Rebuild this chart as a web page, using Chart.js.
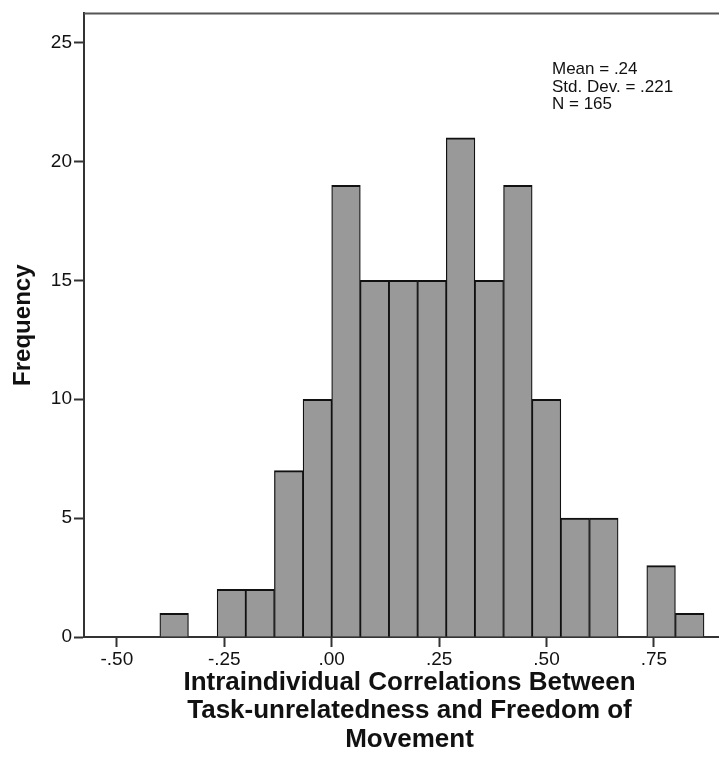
<!DOCTYPE html>
<html lang="en">

<head>
    <meta charset="UTF-8">
    <title>Histogram</title>
    <script src="https://cdn.jsdelivr.net/npm/chart.js"></script>
    <style>
        html, body { margin: 0; background: #ffffff; overflow: hidden; }
        /* the plot runs a little past the right edge of the picture */
        .grafico { width: 736px; height: 761px; position: relative; }
    </style>
</head>

<body>
    <div class="grafico">
        <canvas id="myChart"></canvas>
    </div>

<script>

    // bin centres (bin width 1/15) and counts
    var binCenters = [-0.3667, -0.3, -0.2333, -0.1667, -0.1, -0.0333, 0.0333, 0.1, 0.1667, 0.2333,
        0.3, 0.3667, 0.4333, 0.5, 0.5667, 0.6333, 0.7, 0.7667, 0.8333];
    var frequencias = [1, 0, 2, 2, 7, 10, 19, 15, 15, 15, 21, 15, 19, 10, 5, 5, 0, 3, 1];

    var xTicks = [-0.5, -0.25, 0, 0.25, 0.5, 0.75];
    var xTickLabels = ['-.50', '-.25', '.00', '.25', '.50', '.75'];
    var yTicks = [0, 5, 10, 15, 20, 25];

    var estatisticas = ['Mean = .24', 'Std. Dev. = .221', 'N = 165'];

    var fonte = "'Liberation Sans', Arial, sans-serif";

    var pontos = [];
    for (var i = 0; i < binCenters.length; i++) {
        pontos.push({ x: binCenters[i], y: frequencias[i] });
    }

    // top frame line + stats box
    const molduraPlugin = {
        id: 'moldura',
        afterDraw(chart) {
            const ctx = chart.ctx;
            const area = chart.chartArea;
            ctx.save();
            ctx.strokeStyle = '#555555';
            ctx.lineWidth = 2;
            ctx.beginPath();
            ctx.moveTo(area.left, area.top);
            ctx.lineTo(area.right + 2, area.top);
            ctx.stroke();

            ctx.fillStyle = '#111111';
            ctx.font = '17px ' + fonte;
            ctx.textAlign = 'left';
            ctx.textBaseline = 'alphabetic';
            for (var j = 0; j < estatisticas.length; j++) {
                ctx.fillText(estatisticas[j], area.left + 468, area.top + 61 + j * 17.2);
            }
            ctx.restore();
        }
    };

    const config = {
        type: 'bar',
        data: {
            datasets: [{
                data: pontos,
                backgroundColor: '#999999',
                borderColor: '#111111',
                borderWidth: { top: 2, left: 1.25, right: 1.25, bottom: 0 },
                borderSkipped: false,
                barPercentage: 1,
                categoryPercentage: 1
            }]
        },
        options: {
            responsive: true,
            maintainAspectRatio: false,
            animation: false,
            layout: { padding: { top: 10, left: 0, right: 1, bottom: 0 } },
            plugins: {
                legend: { display: false },
                tooltip: { enabled: false }
            },
            scales: {
                x: {
                    type: 'linear',
                    min: -0.5765,
                    max: 0.9387,
                    offset: false,
                    afterBuildTicks: function (scale) {
                        scale.ticks = xTicks.map(v => ({ value: v }));
                    },
                    afterFit: function (scale) { scale.height = 124; },
                    ticks: {
                        autoSkip: false,
                        maxRotation: 0,
                        padding: 1,
                        color: '#111111',
                        font: { family: fonte, size: 19 },
                        callback: function (v) {
                            var k = xTicks.indexOf(v);
                            return k >= 0 ? xTickLabels[k] : '';
                        }
                    },
                    grid: {
                        offset: false,
                        drawOnChartArea: false,
                        tickLength: 10,
                        tickColor: '#333333',
                        tickWidth: 2
                    },
                    border: { display: true, color: '#333333', width: 2 },
                    title: {
                        display: true,
                        text: ['Intraindividual Correlations Between', 'Task-unrelatedness and Freedom of', 'Movement'],
                        color: '#111111',
                        font: { family: fonte, size: 26, weight: 'bold', lineHeight: 1.1 },
                        padding: { top: 0, bottom: 7 }
                    }
                },
                y: {
                    min: 0,
                    max: 26.23,
                    afterBuildTicks: function (scale) {
                        scale.ticks = yTicks.map(v => ({ value: v }));
                    },
                    afterFit: function (scale) { scale.width = 84; },
                    ticks: {
                        padding: 2,
                        color: '#111111',
                        font: { family: fonte, size: 19 }
                    },
                    grid: {
                        drawOnChartArea: false,
                        tickLength: 10,
                        tickColor: '#333333',
                        tickWidth: 2
                    },
                    border: { display: true, color: '#333333', width: 2 },
                    title: {
                        display: true,
                        text: 'Frequency',
                        color: '#111111',
                        font: { family: fonte, size: 24, weight: 'bold' },
                        padding: { top: 9, bottom: 0 }
                    }
                }
            }
        },
        plugins: [molduraPlugin]
    };

    let myChart = new Chart(document.getElementById('myChart'), config);

</script>
</body>

</html>
